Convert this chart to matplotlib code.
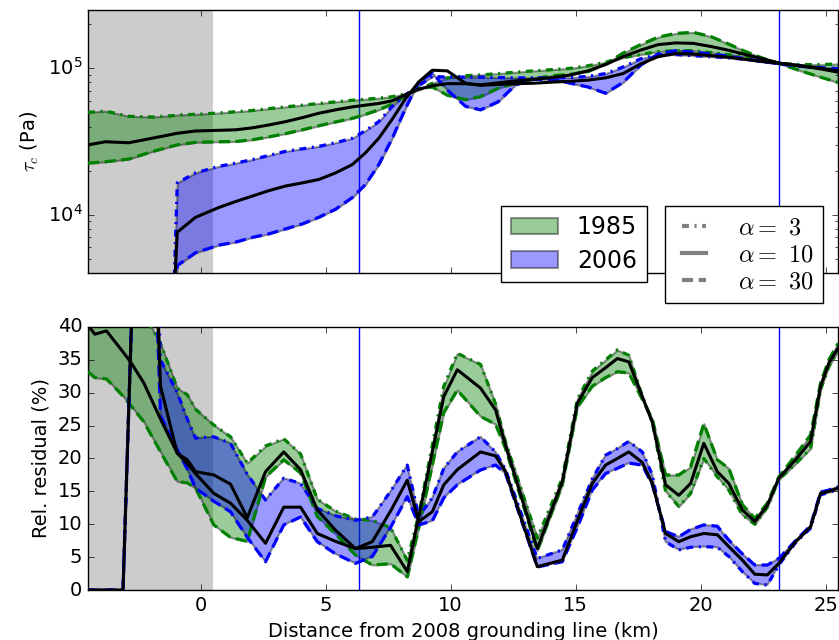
import numpy as np
import matplotlib
matplotlib.use("Agg")
import matplotlib.pyplot as plt
from matplotlib.lines import Line2D

plt.style.use("classic")
plt.rcParams["figure.facecolor"] = "white"
plt.rcParams["savefig.facecolor"] = "white"
plt.rcParams["lines.scale_dashes"] = False

nan = np.nan

# distance from 2008 grounding line (km), top panel
x_tau = [-4.5, -3.8, -2.87, -1.93, -1.1, -0.93, -0.2, 0.73, 1.4, 2.07, 2.73, 3.4,
         4.07, 4.73, 5.4, 6.07, 6.6, 7.13, 7.67, 8.2, 8.73, 9.27, 9.87, 10.6, 11.2,
         11.9, 12.6, 13.3, 14.1, 14.8, 15.5, 16.2, 16.9, 17.6, 18.3, 19.0, 19.7,
         20.4, 21.1, 21.8, 22.5, 23.2, 24.0, 24.8, 25.5]

# basal shear stress tau_c (kPa)
tau85_a3 = [50, 51, 47, 46.5, 47.5, 48, 48.5, 49.5, 50.5, 51.5, 53, 54.5, 56, 57.5,
            59, 60.5, 61.5, 62.5, 64, 67, 71, 79, 86, 89, 90, 92, 94, 96, 98, 100,
            104, 110, 118, 124, 130, 132, 132, 128, 124, 120, 114, 108, 106, 106, 107]
tau85_a10 = [30.0, 31.5, 31.0, 33.3, 35.5, 36.0, 37.3, 37.7, 38.0, 39.2, 41.0, 43.2,
             46.0, 49.3, 52.0, 54.5, 56.0, 57.5, 60.0, 66.0, 72.0, 76.0, 78.5, 78.5,
             77.0, 79.5, 82.0, 84.0, 86.5, 90.0, 96.0, 106, 120, 133, 145, 149, 148,
             141, 133, 124, 116, 108, 104, 100, 96]
tau85_a30 = [22.5, 23.0, 24.0, 27.0, 29.5, 30.0, 31.2, 31.5, 31.6, 32.5, 34.0, 35.8,
             38.0, 40.5, 43.0, 45.5, 48.5, 52.0, 57.0, 65.0, 73.0, 74.5, 65.5, 61.0,
             64.0, 73.0, 79.0, 84.5, 89.0, 91.0, 95.0, 107, 127, 145, 163, 173, 176,
             165, 147, 130, 117, 107, 96, 87, 80]
tau06_a3 = [nan, nan, nan, nan, 2.0, 16.5, 19.3, 21.4, 22.5, 23.8, 25.4, 27.1, 28.2,
            29.3, 31.0, 33.3, 37.5, 43.3, 55.0, 66.0, 76.0, 88.0, 87.0, 87.0, 87.0,
            86.5, 86.0, 86.0, 86.0, 86.5, 88.0, 92.0, 102, 116, 124, 124, 122, 120,
            118, 115, 111, 108, 104, 100, 97]
tau06_a10 = [nan, nan, nan, nan, 2.0, 7.6, 9.6, 11.2, 12.3, 13.4, 14.6, 15.7, 16.5,
             17.4, 19.3, 22.0, 26.5, 33.3, 45.0, 62.0, 80.7, 97.0, 96.0, 79.0, 76.5,
             77.5, 78.5, 79.0, 80.5, 81.5, 83.0, 86.0, 92.0, 107, 120, 126, 125, 122,
             119, 115, 111, 108, 104, 99, 94]
tau06_a30 = [nan, nan, nan, nan, 1.5, 4.5, 5.5, 6.2, 6.5, 7.0, 7.4, 8.0, 8.65, 9.6,
             10.9, 13.1, 16.1, 22.0, 33.3, 53.4, 80.7, 93.0, 71.0, 55.0, 52.0, 59.0,
             77.0, 84.0, 84.0, 79.0, 74.5, 67.5, 80.0, 105, 125, 132, 129, 125, 121,
             116, 111, 107, 103, 101, 99.5]

# bottom panel
x_res = [-4.5, -4.23, -3.76, -3.1, -2.8, -2.27, -1.6, -0.93, -0.53, -0.2, 0.53, 1.2,
         1.87, 2.6, 3.33, 4.0, 4.67, 5.4, 6.2, 6.87, 7.6, 8.27, 8.73, 9.27, 9.73,
         10.27, 11.2, 11.8, 12.2, 13.47, 14.47, 15.07, 15.67, 16.2, 16.67, 17.13,
         17.67, 18.07, 18.6, 19.13, 19.6, 20.13, 20.67, 21.13, 21.67, 22.17, 22.67,
         23.13, 23.8, 24.4, 24.8, 25.13, 25.5]

# relative residual (%)
res85_a3 = [48, 47.5, 47, 46, 45, 42, 37.5, 30.7, 29.7, 27.5, 25.1, 23.3, 19.3, 21.9,
            23.0, 20.7, 13.8, 12.0, 10.8, 10.6, 9.5, 4.5, 11.5, 22.0, 31.0, 36.0,
            34.3, 28.3, 22.5, 7.9, 17.0, 29.0, 33.3, 35.0, 36.5, 35.7, 29.5, 25.5,
            15.0, 12.7, 14.7, 20.0, 17.2, 15.2, 11.4, 10.0, 12.6, 16.8, 19.2, 21.5,
            30.5, 34.0, 36.3]
res85_a10 = [40.3, 38.9, 39.4, 36.2, 34.7, 31.5, 26.0, 20.8, 19.8, 18.0, 17.5, 16.1,
             11.0, 18.0, 21.0, 18.3, 12.2, 9.1, 6.3, 6.5, 6.8, 2.8, 11.2, 21.0, 29.4,
             33.5, 30.7, 27.4, 22.0, 6.3, 16.5, 28.4, 32.3, 33.8, 35.2, 34.7, 29.4,
             25.5, 16.0, 14.4, 16.2, 22.3, 18.0, 16.2, 12.2, 10.4, 12.9, 17.0, 19.8,
             22.6, 31.0, 34.5, 36.8]
res85_a30 = [33.2, 32.3, 32.1, 29.5, 28.1, 25.6, 21.0, 16.5, 16.3, 15.5, 9.9, 8.0,
             7.4, 17.2, 19.8, 17.8, 11.2, 8.5, 5.3, 3.8, 4.0, 2.0, 9.5, 19.0, 27.0,
             30.4, 26.4, 25.2, 21.5, 6.0, 16.0, 27.8, 31.0, 32.3, 33.2, 33.0, 29.0,
             26.0, 17.5, 17.5, 18.75, 25.3, 19.8, 18.5, 13.0, 10.9, 13.2, 17.2, 20.5,
             23.6, 31.5, 35.0, 37.5]
res06_a3 = [0, 0, 0, 0, 36, 100, 35.0, 30.0, 26.0, 23.1, 23.3, 22.3, 17.6, 13.7,
            17.0, 16.2, 12.4, 11.3, 10.6, 11.1, 15.0, 19.0, 11.2, 14.0, 18.5, 21.0,
            23.3, 21.0, 18.3, 4.8, 6.1, 11.5, 16.9, 20.5, 21.5, 22.6, 21.0, 17.5,
            7.35, 6.1, 6.5, 6.6, 6.5, 5.1, 2.8, 1.0, 0.75, 3.8, 7.2, 9.4, 14.5, 14.8,
            15.3]
res06_a10 = [0, 0, 0, 0, 36, 100, 31.0, 20.8, 19.2, 17.7, 14.7, 13.2, 10.6, 7.1,
             12.6, 12.6, 8.6, 7.4, 6.3, 7.35, 12.0, 16.7, 10.4, 11.9, 16.0, 18.3,
             21.0, 20.4, 18.0, 3.55, 4.55, 10.5, 16.2, 19.0, 20.0, 21.0, 19.4, 16.2,
             8.6, 7.35, 8.1, 8.6, 8.4, 6.6, 4.55, 2.4, 2.3, 4.05, 7.35, 9.6, 14.7,
             15.0, 15.5]
res06_a30 = [0, 0, 0, 0, 36, 100, 26.5, 21.3, 18.4, 15.5, 13.5, 11.9, 8.0, 4.3, 9.9,
             11.1, 7.35, 5.5, 4.05, 5.1, 9.5, 14.2, 9.9, 10.5, 14.0, 16.0, 18.25,
             19.0, 17.7, 3.5, 4.3, 9.5, 15.2, 17.7, 18.5, 19.3, 19.0, 16.0, 8.9, 8.1,
             9.2, 9.9, 9.7, 7.6, 5.5, 3.8, 3.8, 4.8, 7.5, 9.8, 14.9, 15.2, 15.7]

grounded_end = 0.5
front_lines = [6.33, 23.13]

fig = plt.figure(figsize=(8.39, 6.4), dpi=100)
ax1 = fig.add_axes([0.1049, 0.5734, 0.894, 0.411])
ax2 = fig.add_axes([0.1049, 0.0781, 0.894, 0.411], sharex=ax1)

dash = (8, 4)
dashdot = (5, 4, 1.5, 4)
years = [("1985", "g"), ("2006", "b")]


def draw_panel(ax, x, sets, scale):
    ax.axvspan(-4.5, grounded_end, color="0.8", lw=0, zorder=0)
    for xv in front_lines:
        ax.axvline(xv, color="b", lw=1, zorder=1)
    fills = []
    for (label, c), (a3, a10, a30) in zip(years, sets):
        a3 = np.array(a3) * scale
        a10 = np.array(a10) * scale
        a30 = np.array(a30) * scale
        f = ax.fill_between(x, a3, a30, facecolor=c, edgecolor="k", alpha=0.4,
                            lw=1.5, label=label, zorder=2)
        fills.append(f)
        ax.plot(x, a3, color=c, lw=2.3, dashes=dashdot, zorder=3)
        ax.plot(x, a30, color=c, lw=2.3, dashes=dash, zorder=3)
        ax.plot(x, a10, color="k", lw=2.2, zorder=4)
    return fills


fills = draw_panel(ax1, x_tau, [(tau85_a3, tau85_a10, tau85_a30),
                                (tau06_a3, tau06_a10, tau06_a30)], 1e3)
ax1.set_yscale("log")
ax1.set_ylim(4e3, 2.5e5)
ax1.set_ylabel(r"$\tau_c$ (Pa)", fontsize=14)
plt.setp(ax1.get_xticklabels(), visible=False)

draw_panel(ax2, x_res, [(res85_a3, res85_a10, res85_a30),
                        (res06_a3, res06_a10, res06_a30)], 1.0)
ax2.set_ylim(0, 40)
ax2.set_xlim(-4.5, 25.5)
ax2.set_xticks([0, 5, 10, 15, 20, 25])
ax2.set_yticks(range(0, 41, 5))
ax2.set_ylabel("Rel. residual (%)", fontsize=14)
ax2.set_xlabel("Distance from 2008 grounding line (km)", fontsize=14)

for ax in (ax1, ax2):
    ax.tick_params(labelsize=14)

leg1 = ax1.legend(handles=fills, loc="upper left", bbox_to_anchor=(0.551, 0.255),
                  borderaxespad=0, fontsize=17, labelspacing=0.4,
                  fancybox=False, framealpha=1)
leg1.set_zorder(10)
ax1.add_artist(leg1)

alpha_handles = [Line2D([], [], color="gray", lw=3, dashes=dashdot),
                 Line2D([], [], color="gray", lw=3),
                 Line2D([], [], color="gray", lw=3, dashes=dash)]
alpha_labels = [r"$\alpha=\ 3$", r"$\alpha=\ 10$", r"$\alpha=\ 30$"]
leg2 = ax1.legend(alpha_handles, alpha_labels, loc="upper left",
                  bbox_to_anchor=(0.769, 0.255), borderaxespad=0, fontsize=17.5,
                  handlelength=1.6, handletextpad=1.0, labelspacing=0.12,
                  fancybox=False, framealpha=1)
leg2.set_zorder(10)

fig.savefig("out.png", dpi=100)
